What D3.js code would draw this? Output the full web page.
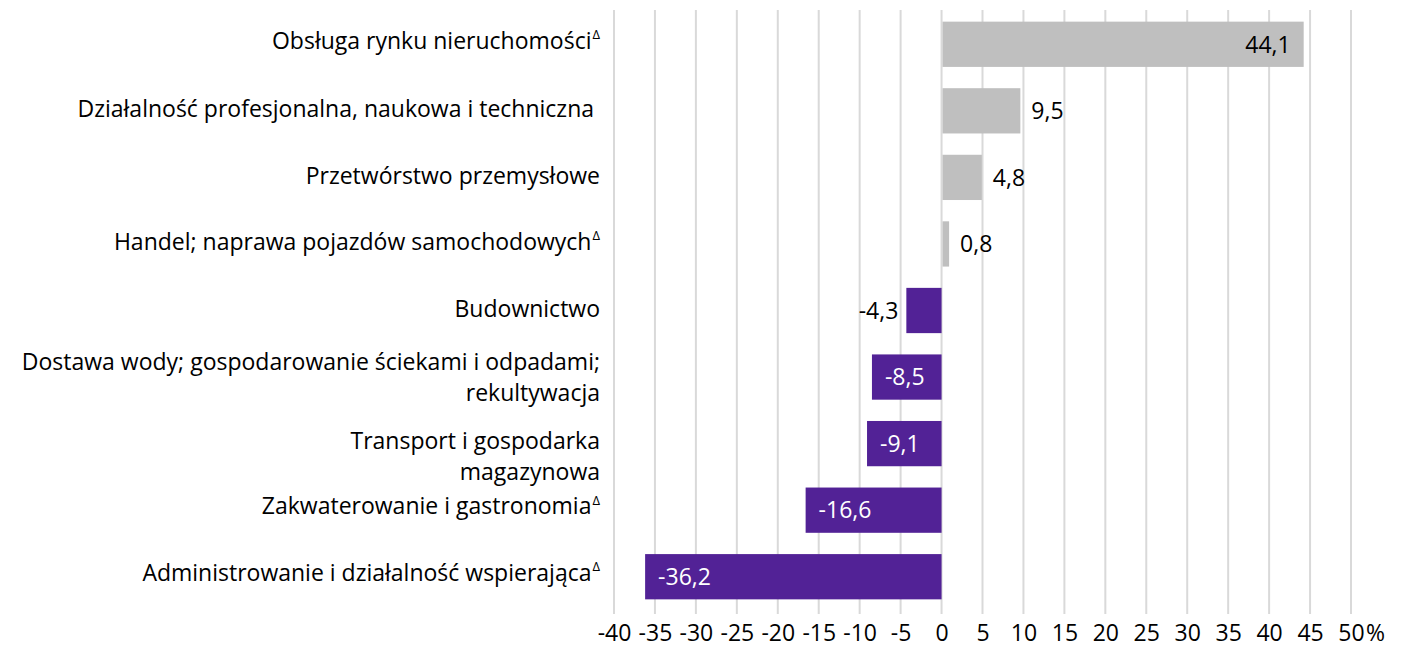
<!DOCTYPE html>
<html>
<head>
<meta charset="utf-8">
<script src="https://cdn.jsdelivr.net/npm/d3@7"></script>
<style>
  body { margin: 0; background: #fff; }
  text { font-family: "Open Sans", "Noto Sans", sans-serif; fill: #000; }
</style>
</head>
<body>
<script>
// sectors, top to bottom
let categories = [
    ['Obsługa rynku nieruchomości', 'Δ'],
    ['Działalność profesjonalna, naukowa i techniczna\u00a0', ''],
    ['Przetwórstwo przemysłowe', ''],
    ['Handel; naprawa pojazdów samochodowych', 'Δ'],
    ['Budownictwo', ''],
    ['Dostawa wody; gospodarowanie ściekami i odpadami;|rekultywacja', ''],
    ['Transport i gospodarka|magazynowa', ''],
    ['Zakwaterowanie i gastronomia', 'Δ'],
    ['Administrowanie i działalność wspierająca', 'Δ']
]
let values = [44.1, 9.5, 4.8, 0.8, -4.3, -8.5, -9.1, -16.6, -36.2]
let ticks = [-40, -35, -30, -25, -20, -15, -10, -5, 0, 5, 10, 15, 20, 25, 30, 35, 40, 45, 50]

let width = 1402
let height = 651
let fontSize = 23

let svg = d3.select('body')
    .append('svg')
    .attr('width', width)
    .attr('height', height)

let xScale = d3.scaleLinear()
    .domain([-40, 50])
    .range([614, 1351])

let yScale = d3.scaleBand()
    .domain(d3.range(values.length))
    .range([11, 610])
    .paddingInner(0.32)
    .paddingOuter(0.16)

// gridlines
svg.append('g')
    .selectAll('line')
    .data(ticks)
    .enter()
    .append('line')
    .attr('x1', d => xScale(d))
    .attr('x2', d => xScale(d))
    .attr('y1', 10)
    .attr('y2', 614)
    .attr('stroke', '#d9d9d9')
    .attr('stroke-width', 2)

// x axis labels
let xAxis = d3.axisBottom(xScale)
    .tickValues(ticks)
    .tickSize(0)
    .tickPadding(0)
    .tickFormat(d => d)

let axisG = svg.append('g')
    .attr('transform', 'translate(0, 625)')
    .call(xAxis)
axisG.select('.domain').remove()
axisG.selectAll('text')
    .attr('font-size', fontSize)
    .attr('dy', '0.71em')
    .style('font-family', '"Open Sans", sans-serif')
    .attr('fill', '#000')

svg.append('text')
    .attr('x', xScale(50) + 15)
    .attr('y', 625)
    .attr('dy', '0.71em')
    .attr('font-size', fontSize)
    .text('%')

// bars
svg.append('g')
    .selectAll('rect')
    .data(values)
    .enter()
    .append('rect')
    .attr('x', d => xScale(Math.min(0, d)) + (d > 0 ? 1 : 0))
    .attr('width', d => Math.abs(xScale(d) - xScale(0)))
    .attr('y', (d, i) => yScale(i))
    .attr('height', yScale.bandwidth())
    .attr('fill', d => d > 0 ? '#bfbfbf' : '#522296')

// value labels
let fmt = d => d3.format('.1f')(d).replace('.', ',').replace('−', '-')
let inside = d => Math.abs(xScale(d) - xScale(0)) > 60 && (d < 0 || d > 20)

svg.append('g')
    .selectAll('text')
    .data(values)
    .enter()
    .append('text')
    .attr('font-size', fontSize)
    .attr('y', (d, i) => yScale(i) + yScale.bandwidth() / 2)
    .attr('dy', '0.36em')
    .attr('x', d => {
        if (d > 0) return inside(d) ? xScale(d) - 12 : xScale(d) + 12
        return inside(d) ? xScale(d) + 13 : xScale(d) - 8
    })
    .attr('text-anchor', d => (d > 0) === inside(d) ? 'end' : 'start')
    .style('fill', d => (d < 0 && inside(d)) ? '#fff' : '#000')
    .text(d => fmt(d))

// category labels
let labelShift = [-4, -2, -2, -2, -2, 0, 13, -4, -4]
let lh = 31

let catG = svg.append('g')
categories.forEach((c, i) => {
    let lines = c[0].split('|')
    let cy = yScale(i) + yScale.bandwidth() / 2 + labelShift[i]
    let y0 = cy - (lines.length - 1) / 2 * lh
    lines.forEach((line, j) => {
        let t = catG.append('text')
            .attr('x', 600)
            .attr('y', y0 + j * lh)
            .attr('dy', '0.36em')
            .attr('text-anchor', 'end')
            .attr('font-size', fontSize)
        t.append('tspan').text(line)
        if (j === lines.length - 1 && c[1]) {
            t.append('tspan')
                .attr('font-size', 13)
                .attr('dx', 1)
                .attr('dy', '-0.75em')
                .text(c[1])
        }
    })
})
</script>
</body>
</html>
